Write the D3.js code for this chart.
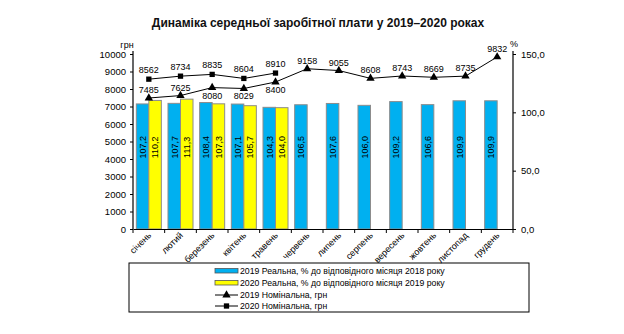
<!DOCTYPE html>
<html><head><meta charset="utf-8">
<script src="https://cdn.jsdelivr.net/npm/d3@7"></script>
<style>body{margin:0;background:#fff;} svg{display:block;font-family:"Liberation Sans",Arial,sans-serif;}</style>
</head><body>
<svg id="c" width="624" height="334"></svg>
<script>
const months = ["січень","лютий","березень","квітень","травень","червень","липень","серпень","вересень","жовтень","листопад","грудень"];
const real2019 = [107.2,107.7,108.4,107.1,104.3,106.5,107.6,106.0,109.2,106.6,109.9,109.9];
const real2020 = [110.2,111.3,107.3,105.7,104.0];
const nom2019 = [7485,7625,8080,8029,8400,9158,9055,8608,8743,8669,8735,9832];
const nom2020 = [8562,8734,8835,8604,8910];
const leftTicks = [0,1000,2000,3000,4000,5000,6000,7000,8000,9000,10000];
const rightTicks = [0,50,100,150];
const title = "Динаміка середньої заробітної плати у 2019–2020 роках";
const legendLabels = ["2019 Реальна, % до відповідного місяця 2018 року","2020 Реальна, % до відповідного місяця 2019 року","2019 Номінальна, грн","2020 Номінальна, грн"];
// label placement for 2019 nominal: below for Mar-May
const nom2019Below = [false,false,true,true,true,false,false,false,false,false,false,false];

const FONT = "'Liberation Sans',Arial,sans-serif";
const svg = d3.select("#c");
const L=133, R=513, T=54, B=229;
const x = d3.scaleBand().domain(months).range([L,R]).paddingInner(0.21).paddingOuter(0.105);
const xc = d3.scaleBand().domain(months).range([L,R]);
const x2 = d3.scaleBand().domain([0,1]).range([0,x.bandwidth()]);
const yL = d3.scaleLinear().domain([0,10000]).range([B,T]);
const yR = d3.scaleLinear().domain([0,150]).range([B,T]);

svg.append("text").attr("x",318).attr("y",27).attr("text-anchor","middle")
  .attr("font-weight","bold").attr("font-size",12).attr("fill","#111").text(title);

// bars
const blue="#00B0F0", yellow="#FFFF00";
function bars(data, idx, color){
  svg.append("g").selectAll("rect").data(data).join("rect")
    .attr("x",(d,i)=>x(months[i])+x2(idx)).attr("width",x2.bandwidth())
    .attr("y",d=>yR(d)).attr("height",d=>B-yR(d))
    .attr("fill",color).attr("stroke","#8c8c8c").attr("stroke-width",1);
  svg.append("g").selectAll("text").data(data).join("text")
    .attr("transform",(d,i)=>`translate(${x(months[i])+x2(idx)+x2.bandwidth()/2+3.3},${yR(70)}) rotate(-90)`)
    .attr("text-anchor","middle").attr("font-size",9).attr("font-family",FONT)
    .text(d=>d3.format(".1f")(d).replace(".",","));
}
bars(real2019,0,blue);
bars(real2020,1,yellow);

// axes
const axL = svg.append("g").attr("transform",`translate(${L},0)`)
  .call(d3.axisLeft(yL).tickValues(leftTicks).tickSize(3).tickFormat(d3.format("d")));
const axR = svg.append("g").attr("transform",`translate(${R},0)`)
  .call(d3.axisRight(yR).tickValues(rightTicks).tickSize(3).tickFormat(d=>d3.format(".1f")(d).replace(".",",")));
const axB = svg.append("g").attr("transform",`translate(0,${B})`)
  .call(d3.axisBottom(xc).tickSize(0).tickFormat(""));
[axL,axR,axB].forEach(a=>{a.select(".domain").attr("stroke","#000").attr("stroke-width",1.2);
  a.selectAll(".tick line").attr("stroke","#000");
  a.selectAll("text").attr("font-size",9.5).attr("fill","#000").attr("font-family",FONT);});
axL.select(".domain").attr("d",`M0,${T-3}V${B}`);
axR.select(".domain").attr("d",`M0,${T-3}V${B}`);
axL.selectAll(".tick text").attr("x",-7);
axR.selectAll(".tick text").attr("x",8);
// category boundary ticks
svg.append("g").selectAll("line").data(d3.range(months.length+1)).join("line")
  .attr("x1",i=>L+i*xc.step()).attr("x2",i=>L+i*xc.step()).attr("y1",B).attr("y2",B+4).attr("stroke","#000");
// x labels
svg.append("g").selectAll("text").data(months).join("text")
  .attr("transform",d=>`translate(${xc(d)+xc.bandwidth()/2+3},${B+7}) rotate(-45)`)
  .attr("text-anchor","end").attr("font-size",9).attr("font-family",FONT).text(d=>d);

svg.append("text").attr("x",127).attr("y",48).attr("font-size",9).attr("text-anchor","middle").text("грн");
svg.append("text").attr("x",514).attr("y",47).attr("font-size",9).attr("text-anchor","middle").text("%");

// lines
const line = d3.line().x((d,i)=>xc(months[i])+xc.bandwidth()/2).y(d=>yL(d));
svg.append("path").datum(nom2019).attr("d",line).attr("fill","none").attr("stroke","#000").attr("stroke-width",1);
svg.append("path").datum(nom2020).attr("d",line).attr("fill","none").attr("stroke","#000").attr("stroke-width",1);
const tri = d3.symbol().type(d3.symbolTriangle).size(30);
const sq = d3.symbol().type(d3.symbolSquare).size(28);
svg.append("g").selectAll("path").data(nom2019).join("path").attr("d",tri)
  .attr("transform",(d,i)=>`translate(${xc(months[i])+xc.bandwidth()/2},${yL(d)})`).attr("fill","#000");
svg.append("g").selectAll("path").data(nom2020).join("path").attr("d",sq)
  .attr("transform",(d,i)=>`translate(${xc(months[i])+xc.bandwidth()/2},${yL(d)})`).attr("fill","#000");
svg.append("g").selectAll("text").data(nom2019).join("text")
  .attr("x",(d,i)=>xc(months[i])+xc.bandwidth()/2).attr("y",(d,i)=>yL(d)+(nom2019Below[i]?11:-5))
  .attr("text-anchor","middle").attr("font-size",9).attr("font-family",FONT).text(d=>d);
svg.append("g").selectAll("text").data(nom2020).join("text")
  .attr("x",(d,i)=>xc(months[i])+xc.bandwidth()/2).attr("y",d=>yL(d)-6)
  .attr("text-anchor","middle").attr("font-size",9).attr("font-family",FONT).text(d=>d);

// legend
const lg = svg.append("g");
lg.append("rect").attr("x",129).attr("y",263).attr("width",400).attr("height",49)
  .attr("fill","none").attr("stroke","#000").attr("stroke-width",1);
const rows=[271,283,295,306];
legendLabels.forEach((t,i)=>{
  const y=rows[i];
  if(i<2){
    lg.append("rect").attr("x",215).attr("y",y-2.5).attr("width",23).attr("height",4.5)
      .attr("fill",i==0?blue:yellow).attr("stroke","#555").attr("stroke-width",0.8);
  } else {
    lg.append("line").attr("x1",215).attr("x2",238).attr("y1",y).attr("y2",y).attr("stroke","#000");
    lg.append("path").attr("d",i==2?tri:sq).attr("transform",`translate(226.5,${y})`).attr("fill","#000");
  }
  lg.append("text").attr("x",240).attr("y",y+3).attr("font-size",8.7).attr("font-family",FONT).text(t);
});
</script>
</body></html>
